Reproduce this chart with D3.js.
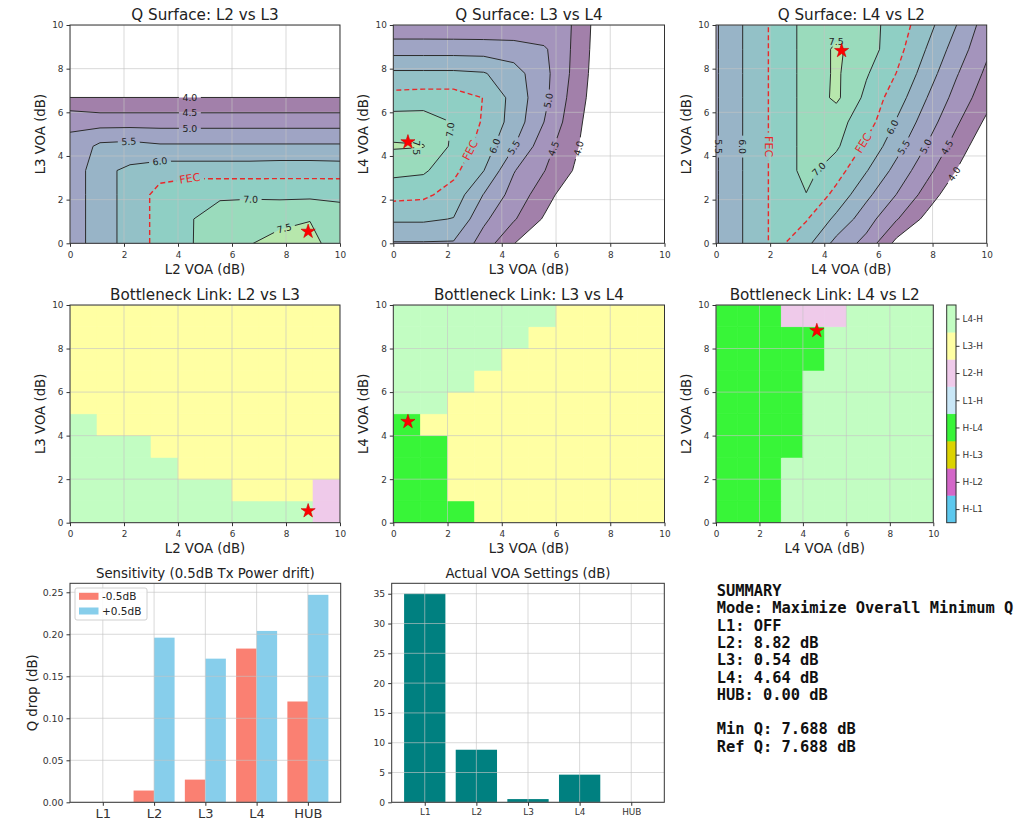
<!DOCTYPE html>
<html><head><meta charset="utf-8">
<script src="https://cdn.jsdelivr.net/npm/d3@7"></script>
<style>
body{margin:0;background:#fff;}
</style></head><body>
<svg id="fig" width="1019" height="820" xmlns="http://www.w3.org/2000/svg"></svg>
<script>
// ---------------- DATA ----------------
const voaTicks = [0, 2, 4, 6, 8, 10];
const qLevels = [4.0, 4.5, 5.0, 5.5, 6.0, 7.0, 7.5];
const fillLevels = [4.0, 4.5, 5.0, 5.5, 6.0, 6.5, 7.0, 7.5, 8.0];
const fecLevel = 6.5;

// Q surface samples on a 10x10 grid (0..10 dB), rows = y axis VOA, cols = x axis VOA
const qL2L3 = [
  [5.10, 5.87, 6.10, 6.71, 6.97, 7.24, 7.48, 7.66, 7.68, 7.20],
  [5.10, 5.87, 6.10, 6.71, 6.98, 7.14, 7.20, 7.38, 7.48, 7.10],
  [5.10, 5.87, 6.10, 6.71, 6.955, 6.955, 6.955, 6.90, 6.90, 6.955],
  [5.10, 5.87, 6.10, 6.267, 6.267, 6.267, 6.267, 6.30, 6.30, 6.267],
  [5.10, 5.62, 5.68, 5.574, 5.574, 5.574, 5.574, 5.574, 5.574, 5.574],
  [4.927, 4.80, 4.80, 4.80, 4.80, 4.80, 4.80, 4.80, 4.80, 4.80],
  [4.01, 4.01, 4.01, 4.01, 4.01, 4.01, 4.01, 4.01, 4.01, 4.01],
  [3.20, 3.20, 3.20, 3.20, 3.20, 3.20, 3.20, 3.20, 3.20, 3.20],
  [2.50, 2.50, 2.50, 2.50, 2.50, 2.50, 2.50, 2.50, 2.50, 2.50],
  [1.80, 1.80, 1.80, 1.80, 1.80, 1.80, 1.80, 1.80, 1.80, 1.80]
];
const qL3L4 = [
  [5.46, 5.46, 5.45, 4.78, 4.02, 3.40, 2.80, 2.20, 1.60, 1.00],
  [6.08, 6.08, 5.98, 5.10, 4.55, 3.95, 3.30, 2.70, 2.10, 1.50],
  [6.65, 6.60, 6.30, 5.48, 4.80, 4.24, 3.60, 3.00, 2.40, 1.80],
  [7.15, 7.08, 6.63, 6.01, 5.03, 4.52, 3.97, 3.40, 2.70, 2.00],
  [7.55, 7.52, 6.89, 6.27, 5.52, 4.71, 4.09, 3.53, 2.80, 2.10],
  [7.25, 7.25, 6.975, 6.44, 5.79, 5.00, 4.19, 3.51, 2.80, 2.10],
  [6.68, 6.72, 6.72, 6.49, 5.82, 5.14, 4.29, 3.57, 2.90, 2.20],
  [6.10, 6.10, 6.10, 6.04, 5.70, 5.16, 4.38, 3.58, 2.90, 2.20],
  [5.29, 5.29, 5.29, 5.28, 5.25, 5.08, 4.42, 3.61, 2.90, 2.20],
  [4.60, 4.60, 4.59, 4.58, 4.56, 4.55, 4.495, 3.60, 3.00, 2.30]
];
const qL4L2 = [
  [5.45, 6.07, 6.65, 6.145, 5.34, 4.84, 3.85, 3.20, 2.60, 2.00],
  [5.45, 6.07, 6.65, 6.54, 5.88, 5.22, 4.54, 3.86, 3.20, 2.60],
  [5.45, 6.07, 6.65, 6.985, 6.34, 5.62, 4.99, 4.31, 3.60, 3.00],
  [5.45, 6.07, 6.65, 7.16, 6.72, 6.03, 5.34, 4.66, 3.99, 3.30],
  [5.45, 6.07, 6.65, 7.16, 7.08, 6.39, 5.68, 4.98, 4.29, 3.60],
  [5.45, 6.07, 6.65, 7.16, 7.165, 6.74, 5.96, 5.26, 4.57, 3.90],
  [5.45, 6.07, 6.65, 7.16, 7.60, 6.87, 6.24, 5.51, 4.82, 4.20],
  [5.45, 6.07, 6.65, 7.16, 7.58, 7.05, 6.49, 5.76, 5.04, 4.40],
  [5.45, 6.07, 6.65, 7.16, 7.58, 7.25, 6.68, 5.98, 5.27, 4.60],
  [5.45, 6.07, 6.65, 7.16, 7.33, 7.20, 6.78, 6.19, 5.50, 4.75]
];

// Bottleneck link category per 1 dB cell (rows = y, cols = x)
const bnCategories = ["H-L1", "H-L2", "H-L3", "H-L4", "L1-H", "L2-H", "L3-H", "L4-H"];
const bnL2L3 = [
  [7,7,7,7,7,7,7,7,7,5],
  [7,7,7,7,7,7,6,6,6,5],
  [7,7,7,7,6,6,6,6,6,6],
  [7,7,7,6,6,6,6,6,6,6],
  [7,6,6,6,6,6,6,6,6,6],
  [6,6,6,6,6,6,6,6,6,6],
  [6,6,6,6,6,6,6,6,6,6],
  [6,6,6,6,6,6,6,6,6,6],
  [6,6,6,6,6,6,6,6,6,6],
  [6,6,6,6,6,6,6,6,6,6]
];
const bnL3L4 = [
  [3,3,3,6,6,6,6,6,6,6],
  [3,3,6,6,6,6,6,6,6,6],
  [3,3,6,6,6,6,6,6,6,6],
  [3,3,6,6,6,6,6,6,6,6],
  [3,6,6,6,6,6,6,6,6,6],
  [7,7,6,6,6,6,6,6,6,6],
  [7,7,7,6,6,6,6,6,6,6],
  [7,7,7,7,6,6,6,6,6,6],
  [7,7,7,7,7,6,6,6,6,6],
  [7,7,7,7,7,7,6,6,6,6]
];
const bnL4L2 = [
  [3,3,3,7,7,7,7,7,7,7],
  [3,3,3,7,7,7,7,7,7,7],
  [3,3,3,7,7,7,7,7,7,7],
  [3,3,3,3,7,7,7,7,7,7],
  [3,3,3,3,7,7,7,7,7,7],
  [3,3,3,3,7,7,7,7,7,7],
  [3,3,3,3,7,7,7,7,7,7],
  [3,3,3,3,3,7,7,7,7,7],
  [3,3,3,3,3,7,7,7,7,7],
  [3,3,3,5,5,5,7,7,7,7]
];

const optL2 = 8.82, optL3 = 0.54, optL4 = 4.64;

const links = ["L1", "L2", "L3", "L4", "HUB"];
const sensMinus = [0.000, 0.014, 0.027, 0.183, 0.120];
const sensPlus  = [0.000, 0.196, 0.171, 0.204, 0.247];
const sensTicks = [0, 0.05, 0.10, 0.15, 0.20, 0.25];
const voaActual = [35.0, 8.82, 0.54, 4.64, 0.0];
const voaBarTicks = [0, 5, 10, 15, 20, 25, 30, 35];

const summaryLines = [
  "SUMMARY",
  "Mode: Maximize Overall Minimum Q",
  "L1: OFF",
  "L2: 8.82 dB",
  "L3: 0.54 dB",
  "L4: 4.64 dB",
  "HUB: 0.00 dB",
  "",
  "Min Q: 7.688 dB",
  "Ref Q: 7.688 dB"
];

// ---------------- STYLE / LAYOUT ----------------
const W = 1019, H = 820;
const FONT = "DejaVu Sans, sans-serif";
const bnColors = ["#5cc8ee", "#d366c8", "#dcd300", "#38f538", "#c9e7f7", "#efcaea", "#ffffa3", "#c2fdc2"];
const bandColor = t => d3.interpolateRgb("#ffffff", d3.interpolateViridis(Math.min(1, (t - 4) / 4.5)))(0.5);

const fig = d3.select("#fig");
fig.append("rect").attr("width", W).attr("height", H).attr("fill", "#fff");
const defs = fig.append("defs");

const R1 = {t: 25, b: 243.3}, R2 = {t: 305, b: 522.7}, R3 = {t: 583.3, b: 802.3};
const box1 = {l: 70, r: 340, ...R1}, box2 = {l: 393.3, r: 664.5, ...R1}, box3 = {l: 716, r: 986.7, ...R1};
const box4 = {l: 70, r: 340, ...R2}, box5 = {l: 393.3, r: 664.5, ...R2}, box6 = {l: 716, r: 933.3, ...R2};
const cbox = {l: 946.7, r: 956, ...R2};
const box7 = {l: 70, r: 340.7, ...R3}, box8 = {l: 391.7, r: 664.3, ...R3};

function addClip(id, box) {
  defs.append("clipPath").attr("id", id).append("rect")
    .attr("x", box.l).attr("y", box.t).attr("width", box.r - box.l).attr("height", box.b - box.t);
}
function drawGrid(g, box, xs, ys, xv, yv) {
  const gg = g.append("g").attr("stroke", "#c4c4c4").attr("stroke-opacity", 0.7).attr("stroke-width", 0.9);
  xv.forEach(v => gg.append("line").attr("x1", xs(v)).attr("x2", xs(v)).attr("y1", box.t).attr("y2", box.b));
  yv.forEach(v => gg.append("line").attr("y1", ys(v)).attr("y2", ys(v)).attr("x1", box.l).attr("x2", box.r));
}
function drawAxes(g, box, xs, ys, xv, yv, o) {
  const ax = g.append("g").attr("transform", `translate(0,${box.b})`)
    .call(d3.axisBottom(xs).tickValues(xv).tickSize(3.5).tickPadding(o.xpad ?? 4.5).tickFormat(o.xfmt));
  const ay = g.append("g").attr("transform", `translate(${box.l},0)`)
    .call(d3.axisLeft(ys).tickValues(yv).tickSize(3.5).tickPadding(3).tickFormat(o.yfmt));
  [ax, ay].forEach(a => { a.select(".domain").remove(); a.attr("font-family", FONT).style("color", "#333"); });
  ax.attr("font-size", o.xfs || 8.9);
  ay.attr("font-size", o.yfs || 8.9);
  g.append("rect").attr("x", box.l).attr("y", box.t).attr("width", box.r - box.l).attr("height", box.b - box.t)
    .attr("fill", "none").attr("stroke", "#333").attr("stroke-width", 1);
}
function addTexts(g, box, title, tY, tfs, xl, xlY, yl, ylOff) {
  g.append("text").attr("x", (box.l + box.r) / 2).attr("y", tY).attr("text-anchor", "middle")
    .attr("font-family", FONT).attr("font-size", tfs).attr("fill", "#222").text(title);
  if (xl) g.append("text").attr("x", (box.l + box.r) / 2).attr("y", xlY).attr("text-anchor", "middle")
    .attr("font-family", FONT).attr("font-size", 13.3).attr("fill", "#222").text(xl);
  if (yl) g.append("text").attr("transform", `translate(${box.l - ylOff},${(box.t + box.b) / 2}) rotate(-90)`)
    .attr("text-anchor", "middle").attr("font-family", FONT).attr("font-size", 13.3).attr("fill", "#222").text(yl);
}
function drawStar(g, x, y) {
  g.append("path").attr("d", d3.symbol().type(d3.symbolStar).size(62)())
    .attr("transform", `translate(${x},${y})`).attr("fill", "#ff0000").attr("stroke", "#cc0000").attr("stroke-width", 0.6);
}
const inBox = (p, b) => p[0] >= b.l - 0.5 && p[0] <= b.r + 0.5 && p[1] >= b.t - 0.5 && p[1] <= b.b + 0.5;

// ---------------- Q SURFACE PANELS ----------------
function drawQPanel(id, box, grid, labels, star, title, xl, yl) {
  const xs = d3.scaleLinear().domain([0, 10]).range([box.l, box.r]);
  const ys = d3.scaleLinear().domain([0, 10]).range([box.b, box.t]);
  addClip(id, box);
  const n = grid.length, step = 10 / (n - 1);
  const values = grid.flat();
  const gen = d3.contours().size([n, n]);
  const toPx = (x, y) => [xs((x - 0.5) * step), ys((y - 0.5) * step)];
  const path = d3.geoPath(d3.geoTransform({point(x, y) { const p = toPx(x, y); this.stream.point(p[0], p[1]); }}));
  const g = fig.append("g");
  const body = g.append("g").attr("clip-path", `url(#${id})`);
  fillLevels.forEach(t => body.append("path").attr("d", path(gen.contour(values, t)))
    .attr("fill", bandColor(t)).attr("fill-rule", "evenodd"));
  drawGrid(body, box, xs, ys, voaTicks, voaTicks);
  const maskId = id + "-mask";
  const mask = defs.append("mask").attr("id", maskId).attr("maskUnits", "userSpaceOnUse")
    .attr("x", 0).attr("y", 0).attr("width", W).attr("height", H);
  mask.append("rect").attr("width", W).attr("height", H).attr("fill", "white");
  const lines = body.append("g").attr("mask", `url(#${maskId})`);
  qLevels.forEach(t => lines.append("path").attr("d", path(gen.contour(values, t)))
    .attr("fill", "none").attr("stroke", "#2b2b2b").attr("stroke-width", 1));
  lines.append("path").attr("d", path(gen.contour(values, fecLevel)))
    .attr("fill", "none").attr("stroke", "#e8282a").attr("stroke-width", 1.4).attr("stroke-dasharray", "5,3");
  // inline labels
  const lg = g.append("g");
  labels.forEach(L => {
    const geom = gen.contour(values, L.lv);
    const tx = xs(L.x), ty = ys(L.y);
    let best = null, bd = Infinity;
    geom.coordinates.forEach(poly => poly.forEach(ring => {
      for (let k = 0; k < ring.length - 1; k++) {
        const a = toPx(ring[k][0], ring[k][1]), b = toPx(ring[k + 1][0], ring[k + 1][1]);
        if (!inBox(a, box) || !inBox(b, box)) continue;
        const dx = b[0] - a[0], dy = b[1] - a[1], l2 = dx * dx + dy * dy;
        let t = l2 ? ((tx - a[0]) * dx + (ty - a[1]) * dy) / l2 : 0;
        t = Math.max(0, Math.min(1, t));
        const px = a[0] + t * dx, py = a[1] + t * dy, d = (px - tx) ** 2 + (py - ty) ** 2;
        if (d < bd) { bd = d; best = {x: px, y: py, ang: Math.atan2(dy, dx) * 180 / Math.PI}; }
      }
    }));
    let px = tx, py = ty, ang = 0;
    if (best && bd < 225) { px = best.x; py = best.y; ang = best.ang; if (ang > 90) ang -= 180; if (ang <= -90) ang += 180; }
    if (L.rot !== undefined) ang = L.rot;
    const isFec = L.lv === fecLevel;
    const fs = isFec ? 11 : 9.4;
    const txt = lg.append("text").attr("transform", `translate(${px},${py}) rotate(${ang})`)
      .attr("text-anchor", "middle").attr("dominant-baseline", "central")
      .attr("font-family", FONT).attr("font-size", fs).attr("fill", isFec ? "#e8282a" : "#222")
      .text(isFec ? "FEC" : L.lv.toFixed(1));
    const w = txt.node().getComputedTextLength() + 7;
    mask.append("rect").attr("x", -w / 2).attr("y", -fs * 0.55).attr("width", w).attr("height", fs * 1.1)
      .attr("transform", `translate(${px},${py}) rotate(${ang})`).attr("fill", "black");
  });
  drawStar(g, xs(star[0]), ys(star[1]));
  drawAxes(g, box, xs, ys, voaTicks, voaTicks, {xfmt: d3.format("d"), yfmt: d3.format("d")});
  addTexts(g, box, title, 20, 15.2, xl, 274, yl, 25);
}

drawQPanel("q1", box1, qL2L3, [
  {lv: 4.0, x: 4.44, y: 6.69}, {lv: 4.5, x: 4.44, y: 5.97}, {lv: 5.0, x: 4.44, y: 5.27},
  {lv: 5.5, x: 2.18, y: 4.57}, {lv: 6.0, x: 3.33, y: 3.77}, {lv: 6.5, x: 4.44, y: 2.98},
  {lv: 7.0, x: 6.69, y: 1.97}, {lv: 7.5, x: 7.9, y: 0.85}
], [optL2, optL3], "Q Surface: L2 vs L3", "L2 VOA (dB)", "L3 VOA (dB)");

drawQPanel("q2", box2, qL3L4, [
  {lv: 7.5, x: 0.86, y: 4.4, rot: 90}, {lv: 7.0, x: 2.1, y: 5.2}, {lv: 6.5, x: 2.82, y: 4.27},
  {lv: 6.0, x: 3.8, y: 4.43}, {lv: 5.5, x: 4.5, y: 4.35}, {lv: 5.0, x: 5.64, y: 6.56},
  {lv: 4.5, x: 5.89, y: 4.35}, {lv: 4.0, x: 6.6, y: 4.43}
], [optL3, optL4], "Q Surface: L3 vs L4", "L3 VOA (dB)", "L4 VOA (dB)");

drawQPanel("q3", box3, qL4L2, [
  {lv: 5.5, x: 0.12, y: 4.43, rot: 90}, {lv: 6.0, x: 1.0, y: 4.43, rot: 90}, {lv: 6.5, x: 1.95, y: 4.43, rot: 90},
  {lv: 7.5, x: 4.44, y: 9.25, rot: 0}, {lv: 7.0, x: 3.8, y: 3.4}, {lv: 6.5, x: 5.5, y: 4.55},
  {lv: 6.0, x: 6.6, y: 5.27}, {lv: 5.5, x: 7.0, y: 4.35}, {lv: 5.0, x: 7.78, y: 4.43},
  {lv: 4.5, x: 8.52, y: 4.4}, {lv: 4.0, x: 8.68, y: 3.28}
], [optL4, optL2], "Q Surface: L4 vs L2", "L4 VOA (dB)", "L2 VOA (dB)");

// ---------------- BOTTLENECK PANELS ----------------
function drawBNPanel(id, box, cells, star, title, xl, yl) {
  const xs = d3.scaleLinear().domain([0, 10]).range([box.l, box.r]);
  const ys = d3.scaleLinear().domain([0, 10]).range([box.b, box.t]);
  addClip(id, box);
  const g = fig.append("g");
  const body = g.append("g").attr("clip-path", `url(#${id})`);
  cells.forEach((row, j) => row.forEach((c, i) => {
    body.append("rect").attr("x", xs(i)).attr("y", ys(j + 1)).attr("width", xs(i + 1) - xs(i))
      .attr("height", ys(j) - ys(j + 1)).attr("fill", bnColors[c]).attr("stroke", bnColors[c]).attr("stroke-width", 0.6);
  }));
  drawGrid(body, box, xs, ys, voaTicks, voaTicks);
  drawStar(g, xs(star[0]), ys(star[1]));
  drawAxes(g, box, xs, ys, voaTicks, voaTicks, {xfmt: d3.format("d"), yfmt: d3.format("d"), xpad: 4});
  addTexts(g, box, title, 300, 15.2, xl, 553.3, yl, 25);
}
drawBNPanel("b1", box4, bnL2L3, [optL2, optL3], "Bottleneck Link: L2 vs L3", "L2 VOA (dB)", "L3 VOA (dB)");
drawBNPanel("b2", box5, bnL3L4, [optL3, optL4], "Bottleneck Link: L3 vs L4", "L3 VOA (dB)", "L4 VOA (dB)");
drawBNPanel("b3", box6, bnL4L2, [optL4, optL2], "Bottleneck Link: L4 vs L2", "L4 VOA (dB)", "L2 VOA (dB)");

// colorbar
(function () {
  const ys = d3.scaleLinear().domain([-0.5, bnCategories.length - 0.5]).range([cbox.b, cbox.t]);
  const g = fig.append("g");
  bnCategories.forEach((c, k) => g.append("rect").attr("x", cbox.l).attr("y", ys(k + 0.5))
    .attr("width", cbox.r - cbox.l).attr("height", ys(k - 0.5) - ys(k + 0.5)).attr("fill", bnColors[k])
    .attr("stroke", bnColors[k]).attr("stroke-width", 0.4));
  const ax = g.append("g").attr("transform", `translate(${cbox.r},0)`)
    .call(d3.axisRight(ys).tickValues(d3.range(bnCategories.length)).tickSize(3.5).tickPadding(3).tickFormat(k => bnCategories[k]));
  ax.select(".domain").remove();
  ax.attr("font-family", FONT).attr("font-size", 8.9).style("color", "#333");
  g.append("rect").attr("x", cbox.l).attr("y", cbox.t).attr("width", cbox.r - cbox.l).attr("height", cbox.b - cbox.t)
    .attr("fill", "none").attr("stroke", "#333").attr("stroke-width", 1);
})();

// ---------------- SENSITIVITY BARS ----------------
(function () {
  const box = box7;
  const xs = d3.scaleLinear().domain([-0.64, 4.64]).range([box.l, box.r]);
  const ys = d3.scaleLinear().domain([0, 0.2607]).range([box.b, box.t]);
  addClip("s1", box);
  const g = fig.append("g");
  const body = g.append("g").attr("clip-path", "url(#s1)");
  links.forEach((l, i) => {
    body.append("rect").attr("x", xs(i - 0.4)).attr("width", xs(0.4) - xs(0)).attr("y", ys(sensMinus[i]))
      .attr("height", ys(0) - ys(sensMinus[i])).attr("fill", "#fa8072");
    body.append("rect").attr("x", xs(i)).attr("width", xs(0.4) - xs(0)).attr("y", ys(sensPlus[i]))
      .attr("height", ys(0) - ys(sensPlus[i])).attr("fill", "#87ceeb");
  });
  drawGrid(body, box, xs, ys, d3.range(links.length), sensTicks);
  drawAxes(g, box, xs, ys, d3.range(links.length), sensTicks,
    {xfmt: i => links[i], yfmt: d3.format(".2f"), xfs: 13, yfs: 9.4, xpad: 2.5});
  addTexts(g, box, "Sensitivity (0.5dB Tx Power drift)", 578.3, 13.3, null, 0, "Q drop (dB)", 33.4);
  // legend
  const lg = g.append("g");
  lg.append("rect").attr("x", 75).attr("y", 588).attr("width", 72).attr("height", 32).attr("rx", 2)
    .attr("fill", "#fff").attr("fill-opacity", 0.85).attr("stroke", "#d0d0d0");
  [["-0.5dB", "#fa8072", 596.3], ["+0.5dB", "#87ceeb", 611]].forEach(([t, c, y]) => {
    lg.append("rect").attr("x", 79).attr("y", y - 3.5).attr("width", 19.5).attr("height", 7).attr("fill", c);
    lg.append("text").attr("x", 102).attr("y", y).attr("dominant-baseline", "central")
      .attr("font-family", FONT).attr("font-size", 10.5).attr("fill", "#222").text(t);
  });
})();

// ---------------- ACTUAL VOA BARS ----------------
(function () {
  const box = box8;
  const xs = d3.scaleLinear().domain([-0.64, 4.64]).range([box.l, box.r]);
  const ys = d3.scaleLinear().domain([0, 36.75]).range([box.b, box.t]);
  addClip("s2", box);
  const g = fig.append("g");
  const body = g.append("g").attr("clip-path", "url(#s2)");
  links.forEach((l, i) => body.append("rect").attr("x", xs(i - 0.4)).attr("width", xs(0.8) - xs(0))
    .attr("y", ys(voaActual[i])).attr("height", ys(0) - ys(voaActual[i])).attr("fill", "#008080"));
  drawGrid(body, box, xs, ys, d3.range(links.length), voaBarTicks);
  drawAxes(g, box, xs, ys, d3.range(links.length), voaBarTicks,
    {xfmt: i => links[i], yfmt: d3.format("d"), xfs: 8.9, yfs: 9.2, xpad: 3});
  addTexts(g, box, "Actual VOA Settings (dB)", 578.3, 13.3, null, 0, null, 0);
})();

// ---------------- SUMMARY ----------------
(function () {
  const g = fig.append("g");
  summaryLines.forEach((s, k) => g.append("text").attr("x", 716.7).attr("y", 596 + k * 17.3)
    .attr("font-family", "DejaVu Sans Mono, monospace").attr("font-weight", "bold").attr("font-size", 15.4)
    .attr("fill", "#111").text(s));
})();
</script>
</body></html>
